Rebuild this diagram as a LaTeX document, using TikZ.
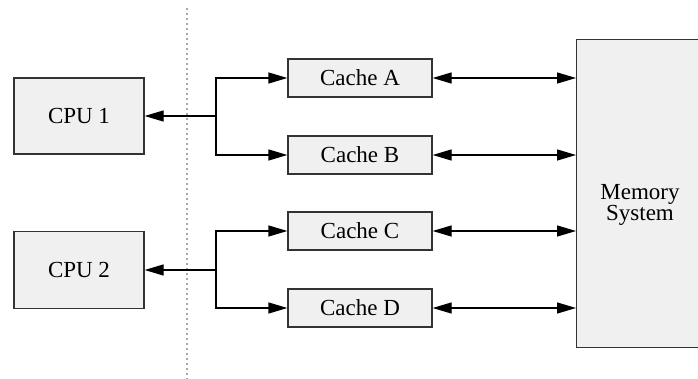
\documentclass[tikz,border=0pt]{standalone}
\usepackage{fontspec}
\setmainfont{Liberation Serif}
\usetikzlibrary{arrows.meta}
\definecolor{boxfill}{HTML}{F0F0F0}
\definecolor{boxline}{HTML}{333333}
\tikzset{
  blk/.style={draw=boxline, fill=boxfill, line width=1.3pt, inner sep=0pt, font=\fontsize{23}{20}\selectfont},
  conn/.style={line width=1.3pt, draw=black, -{Triangle[length=19pt,width=11pt]}},
  dconn/.style={line width=1.3pt, draw=black, {Triangle[length=19pt,width=11pt]}-{Triangle[length=19pt,width=11pt]}},
}
\begin{document}
\begin{tikzpicture}[x=1pt,y=-1pt]
\useasboundingbox (0,0) rectangle (698,379);
\draw[gray!70, line width=1.3pt, dash pattern=on 2pt off 3pt] (187,8) coordinate (dt) -- (187,379) coordinate (db);
\node[blk, minimum width=130pt, minimum height=76pt] (cpu1) at (79,116) {CPU 1};
\node[blk, minimum width=130pt, minimum height=77pt] (cpu2) at (79,270) {CPU 2};
\node[blk, minimum width=144pt, minimum height=38pt] (ca) at (360,78) {Cache A};
\node[blk, minimum width=144pt, minimum height=38pt] (cb) at (360,155) {Cache B};
\node[blk, minimum width=144pt, minimum height=38pt] (cc) at (360,231) {Cache C};
\node[blk, minimum width=144pt, minimum height=38pt] (cd) at (360,308) {Cache D};
\node[blk, minimum width=130pt, minimum height=308pt, anchor=north west] (mem) at (576,39) {};
\node[font=\fontsize{23}{20}\selectfont, align=center, inner sep=0pt] (memtext) at (640,205) {Memory\\System};
\coordinate (j1) at (216,116);
\coordinate (j2) at (216,270);
\draw[conn] (j1) -- (cpu1.east);
\draw[conn] (j1) |- (ca.west);
\draw[conn] (j1) |- (cb.west);
\draw[conn] (j2) -- (cpu2.east);
\draw[conn] (j2) |- (cc.west);
\draw[conn] (j2) |- (cd.west);
\draw[dconn] (ca.east) -- (ca.east -| mem.west);
\draw[dconn] (cb.east) -- (cb.east -| mem.west);
\draw[dconn] (cc.east) -- (cc.east -| mem.west);
\draw[dconn] (cd.east) -- (cd.east -| mem.west);
\end{tikzpicture}
\end{document}
